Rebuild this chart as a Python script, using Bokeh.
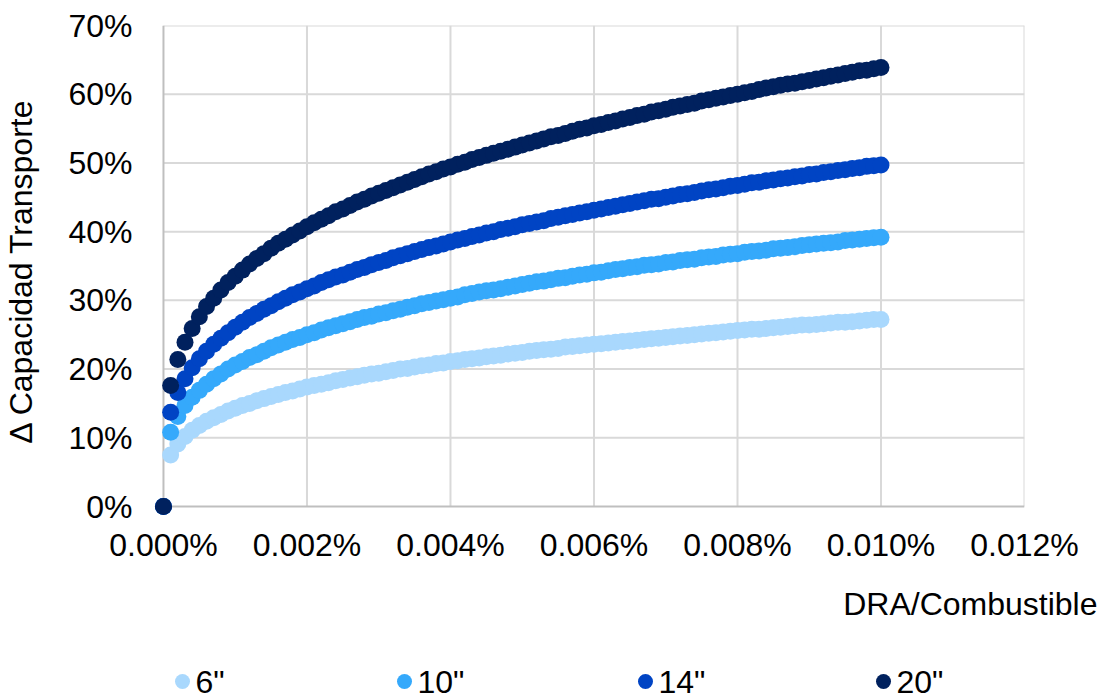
from bokeh.plotting import figure
from bokeh.models import ColumnDataSource, FixedTicker, PrintfTickFormatter
from bokeh.core.properties import value
from bokeh.embed import file_html
from bokeh.resources import INLINE

# DRA dosage in ppm of fuel (1 ppm = 0.0001 %)
dosage_ppm = [
    0, 1, 2, 3, 4, 5, 6, 7, 8, 9, 10, 11, 12, 13, 14, 15, 16, 17, 18, 19, 20,
    21, 22, 23, 24, 25, 26, 27, 28, 29, 30, 31, 32, 33, 34, 35, 36, 37, 38, 39, 40,
    41, 42, 43, 44, 45, 46, 47, 48, 49, 50, 51, 52, 53, 54, 55, 56, 57, 58, 59, 60,
    61, 62, 63, 64, 65, 66, 67, 68, 69, 70, 71, 72, 73, 74, 75, 76, 77, 78, 79, 80,
    81, 82, 83, 84, 85, 86, 87, 88, 89, 90, 91, 92, 93, 94, 95, 96, 97, 98, 99, 100,
]

# Increase in transport capacity (%) per pipe diameter
cap_6in = [
    0.0, 7.5, 9.1, 10.2, 11.1, 11.8, 12.4, 12.9, 13.4, 13.9, 14.3,
    14.7, 15.0, 15.4, 15.7, 16.0, 16.3, 16.6, 16.8, 17.1, 17.4,
    17.6, 17.8, 18.0, 18.3, 18.5, 18.7, 18.9, 19.1, 19.3, 19.4,
    19.6, 19.8, 20.0, 20.1, 20.3, 20.5, 20.6, 20.8, 20.9, 21.1,
    21.2, 21.4, 21.5, 21.6, 21.8, 21.9, 22.0, 22.2, 22.3, 22.4,
    22.6, 22.7, 22.8, 22.9, 23.0, 23.2, 23.3, 23.4, 23.5, 23.6,
    23.7, 23.8, 23.9, 24.0, 24.1, 24.2, 24.3, 24.4, 24.5, 24.6,
    24.7, 24.8, 24.9, 25.0, 25.1, 25.2, 25.3, 25.4, 25.5, 25.6,
    25.7, 25.8, 25.8, 25.9, 26.0, 26.1, 26.2, 26.3, 26.4, 26.4,
    26.5, 26.6, 26.7, 26.8, 26.8, 26.9, 27.0, 27.1, 27.2, 27.2,
]
cap_10in = [
    0.0, 10.8, 13.1, 14.7, 15.9, 16.9, 17.8, 18.6, 19.3, 20.0, 20.6,
    21.1, 21.7, 22.1, 22.6, 23.1, 23.5, 23.9, 24.3, 24.6, 25.0,
    25.3, 25.7, 26.0, 26.3, 26.6, 26.9, 27.2, 27.5, 27.7, 28.0,
    28.2, 28.5, 28.7, 29.0, 29.2, 29.5, 29.7, 29.9, 30.1, 30.3,
    30.5, 30.8, 31.0, 31.2, 31.4, 31.5, 31.7, 31.9, 32.1, 32.3,
    32.5, 32.7, 32.8, 33.0, 33.2, 33.3, 33.5, 33.7, 33.8, 34.0,
    34.1, 34.3, 34.5, 34.6, 34.8, 34.9, 35.1, 35.2, 35.3, 35.5,
    35.6, 35.8, 35.9, 36.0, 36.2, 36.3, 36.4, 36.6, 36.7, 36.8,
    37.0, 37.1, 37.2, 37.3, 37.5, 37.6, 37.7, 37.8, 38.0, 38.1,
    38.2, 38.3, 38.4, 38.5, 38.7, 38.8, 38.9, 39.0, 39.1, 39.2,
]
cap_14in = [
    0.0, 13.7, 16.6, 18.6, 20.2, 21.5, 22.6, 23.6, 24.5, 25.3, 26.1,
    26.8, 27.5, 28.1, 28.7, 29.2, 29.8, 30.3, 30.8, 31.2, 31.7,
    32.1, 32.6, 33.0, 33.4, 33.7, 34.1, 34.5, 34.8, 35.2, 35.5,
    35.8, 36.2, 36.5, 36.8, 37.1, 37.4, 37.7, 37.9, 38.2, 38.5,
    38.8, 39.0, 39.3, 39.5, 39.8, 40.0, 40.3, 40.5, 40.7, 41.0,
    41.2, 41.4, 41.6, 41.9, 42.1, 42.3, 42.5, 42.7, 42.9, 43.1,
    43.3, 43.5, 43.7, 43.9, 44.1, 44.3, 44.5, 44.7, 44.8, 45.0,
    45.2, 45.4, 45.5, 45.7, 45.9, 46.1, 46.2, 46.4, 46.6, 46.7,
    46.9, 47.1, 47.2, 47.4, 47.5, 47.7, 47.8, 48.0, 48.1, 48.3,
    48.4, 48.6, 48.7, 48.9, 49.0, 49.2, 49.3, 49.5, 49.6, 49.7,
]
cap_20in = [
    0.0, 17.6, 21.4, 23.9, 25.9, 27.6, 29.1, 30.3, 31.5, 32.6, 33.5,
    34.4, 35.3, 36.1, 36.8, 37.6, 38.3, 38.9, 39.5, 40.1, 40.7,
    41.3, 41.8, 42.3, 42.9, 43.3, 43.8, 44.3, 44.7, 45.2, 45.6,
    46.0, 46.4, 46.8, 47.2, 47.6, 48.0, 48.4, 48.7, 49.1, 49.4,
    49.8, 50.1, 50.5, 50.8, 51.1, 51.4, 51.7, 52.0, 52.3, 52.6,
    52.9, 53.2, 53.5, 53.8, 54.0, 54.3, 54.6, 54.9, 55.1, 55.4,
    55.6, 55.9, 56.1, 56.4, 56.6, 56.9, 57.1, 57.4, 57.6, 57.8,
    58.1, 58.3, 58.5, 58.7, 59.0, 59.2, 59.4, 59.6, 59.8, 60.0,
    60.2, 60.4, 60.7, 60.9, 61.1, 61.3, 61.5, 61.6, 61.8, 62.0,
    62.2, 62.4, 62.6, 62.8, 63.0, 63.2, 63.4, 63.5, 63.7, 63.9,
]

series_names = ['6"', '10"', '14"', '20"']
series_colors = ["#a9d8fd", "#35a9fb", "#0044c4", "#00215e"]
series_values = [cap_6in, cap_10in, cap_14in, cap_20in]

x_ticks = [0.0, 0.002, 0.004, 0.006, 0.008, 0.010, 0.012]
y_ticks = [0, 10, 20, 30, 40, 50, 60, 70]

FONT = "Liberation Sans"
TXT = "32px"
GRID = "#d9d9d9"
AXIS = "#bfbfbf"

dosage_pct = [d / 10000 for d in dosage_ppm]
x_lo, x_hi = x_ticks[0], x_ticks[-1]
y_lo, y_hi = y_ticks[0], y_ticks[-1]

# A small pad below/left of zero keeps the marker at the origin unclipped.
p = figure(
    width=1106, height=580,
    x_range=(-0.000139, x_hi), y_range=(-1.455, y_hi),
    output_backend="svg", toolbar_location=None,
    min_border_left=153, min_border_right=82,
    min_border_top=25, min_border_bottom=64,
)
p.outline_line_color = None
p.grid.visible = False

# gridlines and axis lines spanning exactly 0..max
n_x, n_y = len(x_ticks), len(y_ticks)
p.segment(x0=x_ticks[1:], y0=[y_lo] * (n_x - 1), x1=x_ticks[1:], y1=[y_hi] * (n_x - 1),
          line_color=GRID, line_width=2)
p.segment(x0=[x_lo] * (n_y - 1), y0=y_ticks[1:], x1=[x_hi] * (n_y - 1), y1=y_ticks[1:],
          line_color=GRID, line_width=2)
p.segment(x0=[x_lo, x_lo], y0=[y_lo, y_lo], x1=[x_lo, x_hi], y1=[y_hi, y_lo],
          line_color=AXIS, line_width=2)

for name, color, vals in zip(series_names, series_colors, series_values):
    src = ColumnDataSource(dict(x=dosage_pct, y=vals))
    p.scatter("x", "y", source=src, size=17, fill_color=color,
              line_color=color, line_width=0)

p.xaxis.ticker = FixedTicker(ticks=x_ticks)
p.yaxis.ticker = FixedTicker(ticks=y_ticks)
p.xaxis.formatter = PrintfTickFormatter(format="%.3f%%")
p.yaxis.formatter = PrintfTickFormatter(format="%d%%")
for ax in (p.xaxis[0], p.yaxis[0]):
    ax.major_label_text_font = FONT
    ax.major_label_text_font_size = TXT
    ax.major_label_text_color = "#000000"
    ax.major_tick_line_color = None
    ax.minor_tick_line_color = None
    ax.axis_line_color = None
p.xaxis.major_label_standoff = 4
p.yaxis.major_label_standoff = 15

p.yaxis.axis_label = "\u0394 Capacidad Transporte"
p.yaxis.axis_label_text_font = FONT
p.yaxis.axis_label_text_font_size = TXT
p.yaxis.axis_label_text_font_style = "normal"
p.yaxis.axis_label_text_color = "#000000"
p.yaxis.axis_label_standoff = 26

# strip below the chart: x-axis title and the series key (pixel coordinates)
key = figure(
    width=1106, height=120, x_range=(0, 1106), y_range=(0, 120),
    output_backend="svg", toolbar_location=None,
    min_border=0, outline_line_color=None,
)
key.axis.visible = False
key.grid.visible = False

key.text(x=[1097], y=[97], text=["DRA/Combustible"],
         text_font=value(FONT), text_font_size=value(TXT), text_color="#000000",
         text_align="right", text_baseline="middle")

key_x = [182, 404, 645, 883]
key.scatter(x=key_x, y=[19] * 4, size=15, fill_color=series_colors,
            line_color=series_colors, line_width=0)
key.text(x=[k + 13 for k in key_x], y=[19] * 4, text=series_names,
         text_font=value(FONT), text_font_size=value(TXT), text_color="#000000",
         text_align="left", text_baseline="middle")

open("out.html", "w").write(file_html([p, key], INLINE))
